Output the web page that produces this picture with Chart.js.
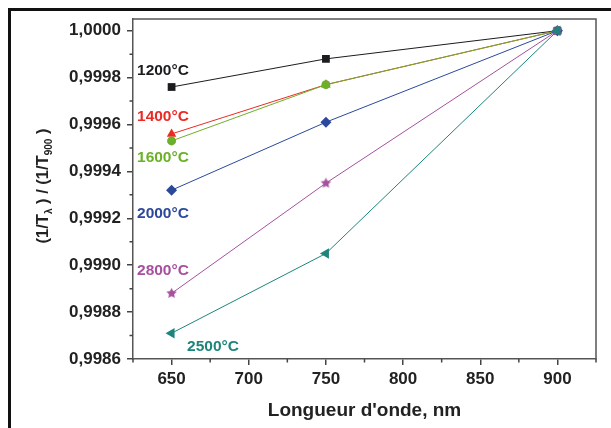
<!DOCTYPE html>
<html>
<head>
<meta charset="utf-8">
<script src="https://cdn.jsdelivr.net/npm/chart.js@4/dist/chart.umd.min.js"></script>
<style>
  html, body { margin: 0; padding: 0; background: #fff; overflow: hidden; }
  #wrap { position: relative; width: 611px; height: 428px; }
  #frame { position: absolute; left: 8px; top: 8px; width: 700px; height: 500px;
           border-left: 3px solid #111; border-top: 3px solid #111; pointer-events: none; }
</style>
</head>
<body>
<div id="wrap">
  <canvas id="chart" width="611" height="428"></canvas>
  <div id="frame"></div>
</div>
<script>
// data
const wavelengths = [650, 750, 900];
const temps = ['1200°C', '1400°C', '1600°C', '2000°C', '2800°C', '2500°C'];
const s1200 = [0.99976, 0.99988, 1.0000];
const s1400 = [0.99956, 0.99977, 1.0000];
const s1600 = [0.99953, 0.99977, 1.0000];
const s2000 = [0.99932, 0.99961, 1.0000];
const s2800 = [0.99888, 0.99935, 1.0000];
const s2500 = [0.99871, 0.99905, 1.0000];
const xTicks = [650, 700, 750, 800, 850, 900];
const yTicks = [0.9986, 0.9988, 0.9990, 0.9992, 0.9994, 0.9996, 0.9998, 1.0000];
const xMinor = [625, 675, 725, 775, 825, 875, 925];
const yMinor = [0.9987, 0.9989, 0.9991, 0.9993, 0.9995, 0.9997, 0.9999];

const colors = {
  c1200: '#1c1c1f',
  c1400: '#ec2a24',
  c1600: '#6cb02a',
  c2000: '#2b489c',
  c2800: '#a6509f',
  c2500: '#1d857c',
};

const FONT = "'Liberation Sans', Arial, sans-serif";

function starImage(color, r) {
  const c = document.createElement('canvas');
  const s = Math.ceil(r * 2 + 2);
  c.width = c.height = s;
  const g = c.getContext('2d');
  g.fillStyle = color;
  g.beginPath();
  for (let i = 0; i < 10; i++) {
    const rr = i % 2 === 0 ? r : r * 0.5;
    const a = -Math.PI / 2 + i * Math.PI / 5;
    g.lineTo(s / 2 + rr * Math.cos(a), s / 2 + rr * Math.sin(a));
  }
  g.closePath();
  g.fill();
  return c;
}

function ds(label, values, color, style, radius, rotation) {
  return {
    label: label,
    data: values.map((v, i) => ({ x: wavelengths[i], y: v })),
    borderColor: color,
    backgroundColor: color,
    borderWidth: 1,
    pointStyle: style,
    pointRadius: radius,
    pointRotation: rotation || 0,
    pointBorderWidth: 0,
    pointBackgroundColor: color,
    tension: 0,
  };
}

const datasets = [
  ds(temps[0], s1200, colors.c1200, 'rect', 5.5),
  ds(temps[1], s1400, colors.c1400, 'triangle', 5.5),
  ds(temps[2], s1600, colors.c1600, 'circle', 4.5),
  ds(temps[3], s2000, colors.c2000, 'rectRot', 5.5),
  ds(temps[4], s2800, colors.c2800, starImage(colors.c2800, 5.5), 5.5),
  ds(temps[5], s2500, colors.c2500, 'triangle', 6, -90),
];
// later series are drawn on top
datasets.forEach((d, i) => { d.order = -i; });

// text labels beside the curves (data coordinates)
const curveLabels = [
  { text: temps[0], x: 627.6, y: 0.999828, color: colors.c1200 },
  { text: temps[1], x: 627.6, y: 0.999632, color: colors.c1400 },
  { text: temps[2], x: 627.6, y: 0.999457, color: colors.c1600 },
  { text: temps[3], x: 627.6, y: 0.999218, color: colors.c2000 },
  { text: temps[4], x: 627.6, y: 0.998975, color: colors.c2800 },
  { text: temps[5], x: 660.0, y: 0.998651, color: colors.c2500 },
];

const decorPlugin = {
  id: 'decor',
  beforeDatasetsDraw(chart) {
    const { ctx, chartArea: a, scales: { x, y } } = chart;
    ctx.save();
    ctx.strokeStyle = '#555';
    ctx.lineWidth = 1.5;
    // top and right frame of the plot box
    ctx.beginPath();
    ctx.moveTo(a.left, a.top);
    ctx.lineTo(a.right, a.top);
    ctx.lineTo(a.right, a.bottom);
    ctx.stroke();
    // minor ticks
    ctx.strokeStyle = '#444';
    ctx.beginPath();
    xMinor.forEach(v => {
      const px = x.getPixelForValue(v);
      ctx.moveTo(px, a.bottom);
      ctx.lineTo(px, a.bottom + 3.5);
    });
    yMinor.forEach(v => {
      const py = y.getPixelForValue(v);
      ctx.moveTo(a.left, py);
      ctx.lineTo(a.left - 3.5, py);
    });
    ctx.stroke();
    ctx.restore();
  },
  afterDatasetsDraw(chart) {
    const { ctx, scales: { x, y } } = chart;
    ctx.save();
    ctx.font = 'bold 15.5px ' + FONT;
    ctx.textAlign = 'left';
    ctx.textBaseline = 'middle';
    curveLabels.forEach(l => {
      ctx.fillStyle = l.color;
      ctx.fillText(l.text, x.getPixelForValue(l.x), y.getPixelForValue(l.y));
    });
    ctx.restore();
  },
  afterDraw(chart) {
    // y axis title with subscripts
    const { ctx } = chart;
    const parts = [
      ['(1/T', false], ['λ', true], [' ) / (1/T', false], ['900', true], [' )', false]
    ];
    const mainFont = 'bold 16.5px ' + FONT;
    const subFont = 'bold 10px ' + FONT;
    ctx.save();
    ctx.translate(43, 186);
    ctx.rotate(-Math.PI / 2);
    ctx.fillStyle = '#222';
    ctx.textBaseline = 'middle';
    ctx.textAlign = 'left';
    let total = 0;
    parts.forEach(p => { ctx.font = p[1] ? subFont : mainFont; total += ctx.measureText(p[0]).width; });
    let cx = -total / 2;
    parts.forEach(p => {
      ctx.font = p[1] ? subFont : mainFont;
      ctx.fillText(p[0], cx, p[1] ? 6 : 0);
      cx += ctx.measureText(p[0]).width;
    });
    ctx.restore();
  }
};

const axisCommon = {
  grid: { display: true, drawOnChartArea: false, drawTicks: true, tickLength: 6, color: '#444', lineWidth: 1.5 },
  border: { display: true, color: '#555', width: 1.5 },
};

new Chart(document.getElementById('chart'), {
  type: 'line',
  data: { datasets: datasets },
  options: {
    responsive: false,
    animation: false,
    layout: { padding: { left: 0, top: 19, right: 15, bottom: 0 } },
    plugins: { legend: { display: false }, tooltip: { enabled: false } },
    scales: {
      x: {
        type: 'linear',
        min: 625,
        max: 925,
        ...axisCommon,
        afterBuildTicks: s => { s.ticks = xTicks.map(v => ({ value: v })); },
        afterFit: s => { s.height = 69; },
        ticks: { color: '#222', font: { family: FONT, size: 17, weight: 'bold' }, padding: 4,
                 maxRotation: 0, autoSkip: false },
        title: { display: true, text: "Longueur d'onde, nm", color: '#222',
                 font: { family: FONT, size: 19, weight: 'bold' }, padding: { top: 4, bottom: 6 } },
      },
      y: {
        type: 'linear',
        min: 0.9986,
        max: 1.00005,
        ...axisCommon,
        afterBuildTicks: s => { s.ticks = yTicks.map(v => ({ value: v })); },
        afterFit: s => { s.width = 133; },
        ticks: { color: '#222', font: { family: FONT, size: 17, weight: 'bold' }, padding: 6,
                 autoSkip: false,
                 callback: v => v.toFixed(4).replace('.', ',') },
      },
    },
  },
  plugins: [decorPlugin],
});
</script>
</body>
</html>
